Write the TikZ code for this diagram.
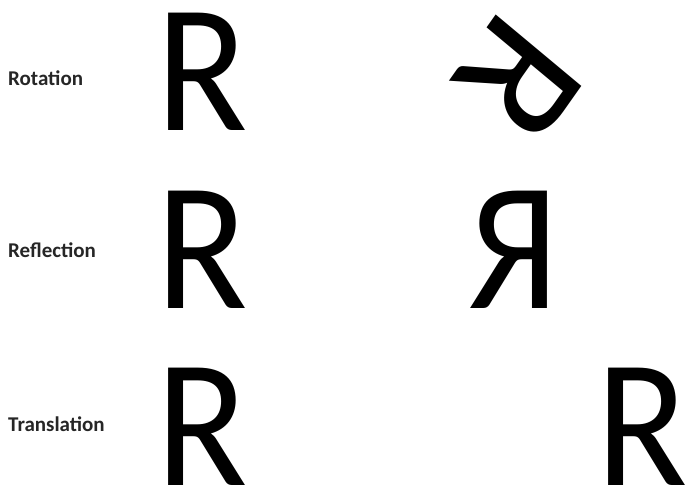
\documentclass[tikz,border=0pt]{standalone}
\usepackage{fontspec}
\setmainfont{Carlito}
\begin{document}
\begin{tikzpicture}[x=1pt,y=1pt,
  lbl/.style={anchor=west,inner sep=0pt,text=black!85,font=\fontsize{21}{21}\selectfont\bfseries},
  bigR/.style={inner sep=0pt,xscale=0.92,font=\fontsize{183}{183}\selectfont}]
\useasboundingbox (0,0) rectangle (685,491);
% labels
\node[lbl] (rot) at (8,413) {Rotation};
\node[lbl] (refl) at (8,241) {Reflection};
\node[lbl] (trans) at (8,67) {Translation};
% original letters
\node[bigR] (rotA) at (202,419) {R};
\node[bigR] (reflA) at (202,241.5) {R};
\node[bigR] (transA) at (202,64.5) {R};
% transformed letters
\node[bigR,rotate=-127.5] (rotB) at (519,411) {R};
\node[bigR,xscale=-1] (reflB) at (514,241.5) {R};
\node[bigR] (transB) at (642,64.5) {R};
\end{tikzpicture}
\end{document}
